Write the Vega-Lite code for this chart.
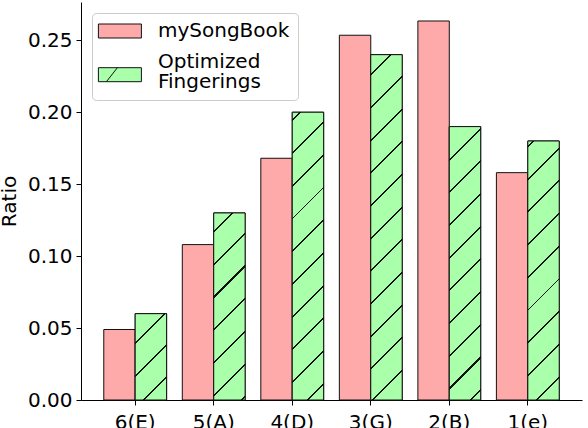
{
  "$schema": "https://vega.github.io/schema/vega-lite/v6.json",
  "width": 501,
  "height": 398,
  "autosize": {"type": "none"},
  "padding": {"left": 81, "top": 2, "right": 6, "bottom": 28},
  "background": "white",
  "config": {
    "view": {"stroke": null},
    "font": "DejaVu Sans",
    "axis": {
      "grid": false,
      "domainColor": "#000000",
      "domainWidth": 1,
      "tickColor": "#000000",
      "tickWidth": 1,
      "tickSize": 5,
      "labelColor": "#000000",
      "labelFontSize": 20,
      "labelFont": "DejaVu Sans",
      "titleFont": "DejaVu Sans",
      "titleFontSize": 20,
      "titleFontWeight": "normal",
      "titleColor": "#000000"
    }
  },
  "data": {
    "values": [
      {"category": "6(E)", "series": "mySongBook", "value": 0.049},
      {"category": "5(A)", "series": "mySongBook", "value": 0.108},
      {"category": "4(D)", "series": "mySongBook", "value": 0.168},
      {"category": "3(G)", "series": "mySongBook", "value": 0.2535},
      {"category": "2(B)", "series": "mySongBook", "value": 0.2634},
      {"category": "1(e)", "series": "mySongBook", "value": 0.158},
      {"category": "6(E)", "series": "Optimized Fingerings", "value": 0.06},
      {"category": "5(A)", "series": "Optimized Fingerings", "value": 0.13},
      {"category": "4(D)", "series": "Optimized Fingerings", "value": 0.20},
      {"category": "3(G)", "series": "Optimized Fingerings", "value": 0.24},
      {"category": "2(B)", "series": "Optimized Fingerings", "value": 0.19},
      {"category": "1(e)", "series": "Optimized Fingerings", "value": 0.18}
    ]
  },
  "encoding": {
    "x": {
      "field": "category",
      "type": "nominal",
      "sort": null,
      "scale": {"paddingInner": 0.2, "paddingOuter": 0.29},
      "axis": {"title": null, "labelAngle": 0, "labelPadding": 7}
    },
    "xOffset": {"field": "series", "type": "nominal", "sort": ["mySongBook", "Optimized Fingerings"]},
    "y": {
      "field": "value",
      "type": "quantitative",
      "scale": {"domain": [0, 0.2766], "nice": false},
      "axis": {"title": "Ratio", "values": [0, 0.05, 0.1, 0.15, 0.2, 0.25], "format": ".2f", "labelPadding": 4, "titlePadding": 8}
    }
  },
  "layer": [
    {
      "mark": {"type": "bar", "stroke": "#111111", "strokeWidth": 1},
      "encoding": {
        "color": {
          "field": "series",
          "type": "nominal",
          "scale": {"domain": ["mySongBook", "Optimized Fingerings"], "range": ["#ffaaaa", "#aaffaa"]},
          "legend": {
            "title": null,
            "orient": "none",
            "legendX": 11,
            "legendY": 11,
            "fillColor": "white",
            "strokeColor": "#cccccc",
            "cornerRadius": 4,
            "padding": 8,
            "symbolType": "M-1.657,-1H4.486V1H-1.657Z",
            "symbolSize": 196,
            "symbolStrokeColor": "#111111",
            "symbolStrokeWidth": 1,
            "labelFontSize": 20,
            "labelColor": "#000000",
            "labelOffset": 38,
            "rowPadding": 11,
            "labelExpr": "datum.label == 'Optimized Fingerings' ? ['Optimized', 'Fingerings'] : datum.label",
            "encode": {
              "symbols": {
                "enter": {
                  "shape": {"signal": "datum.value == 'Optimized Fingerings' ? 'M-1.657,0.814H4.486V2.814H-1.657Z M-0.514,2.814L1.057,0.814' : 'M-1.657,-1H4.486V1H-1.657Z'"}
                },
                "update": {
                  "shape": {"signal": "datum.value == 'Optimized Fingerings' ? 'M-1.657,0.814H4.486V2.814H-1.657Z M-0.514,2.814L1.057,0.814' : 'M-1.657,-1H4.486V1H-1.657Z'"},
                  "opacity": {"value": 1}
                }
              },
              "labels": {"update": {"lineHeight": {"value": 20}}}
            }
          }
        }
      }
    },
    {
      "transform": [{"filter": "datum.series == 'Optimized Fingerings' && datum.category == '6(E)'"}],
      "mark": {"type": "bar", "stroke": "#111111", "strokeWidth": 1, "fill": {
        "gradient": "linear", "x1": 0, "y1": 0, "x2": 0.4382, "y2": 1.2044,
        "stops": [
          {"offset": 0, "color": "#aaffaa"},
          {"offset": 0.2416, "color": "#aaffaa"}, {"offset": 0.2416, "color": "#111111"}, {"offset": 0.2586, "color": "#111111"}, {"offset": 0.2586, "color": "#aaffaa"},
          {"offset": 0.5194, "color": "#aaffaa"}, {"offset": 0.5194, "color": "#111111"}, {"offset": 0.5364, "color": "#111111"}, {"offset": 0.5364, "color": "#aaffaa"},
          {"offset": 0.7971, "color": "#aaffaa"}, {"offset": 0.7971, "color": "#111111"}, {"offset": 0.8141, "color": "#111111"}, {"offset": 0.8141, "color": "#aaffaa"},
          {"offset": 1, "color": "#aaffaa"}
        ]}}
    },
    {
      "transform": [{"filter": "datum.series == 'Optimized Fingerings' && datum.category == '5(A)'"}],
      "mark": {"type": "bar", "stroke": "#111111", "strokeWidth": 1, "fill": {
        "gradient": "linear", "x1": 0, "y1": 0, "x2": 0.19073, "y2": 1.13589,
        "stops": [
          {"offset": 0, "color": "#aaffaa"},
          {"offset": 0.0821, "color": "#aaffaa"}, {"offset": 0.0821, "color": "#111111"}, {"offset": 0.0913, "color": "#111111"}, {"offset": 0.0913, "color": "#aaffaa"},
          {"offset": 0.2318, "color": "#aaffaa"}, {"offset": 0.2318, "color": "#111111"}, {"offset": 0.2410, "color": "#111111"}, {"offset": 0.2410, "color": "#aaffaa"},
          {"offset": 0.3815, "color": "#aaffaa"}, {"offset": 0.3815, "color": "#111111"}, {"offset": 0.3907, "color": "#111111"}, {"offset": 0.3907, "color": "#aaffaa"},
          {"offset": 0.5312, "color": "#aaffaa"}, {"offset": 0.5312, "color": "#111111"}, {"offset": 0.5404, "color": "#111111"}, {"offset": 0.5404, "color": "#aaffaa"},
          {"offset": 0.6809, "color": "#aaffaa"}, {"offset": 0.6809, "color": "#111111"}, {"offset": 0.6901, "color": "#111111"}, {"offset": 0.6901, "color": "#aaffaa"},
          {"offset": 0.8305, "color": "#aaffaa"}, {"offset": 0.8305, "color": "#111111"}, {"offset": 0.8397, "color": "#111111"}, {"offset": 0.8397, "color": "#aaffaa"},
          {"offset": 0.9802, "color": "#aaffaa"}, {"offset": 0.9802, "color": "#111111"}, {"offset": 0.9894, "color": "#111111"}, {"offset": 0.9894, "color": "#aaffaa"},
          {"offset": 1, "color": "#aaffaa"}
        ]}}
    },
    {
      "transform": [{"filter": "datum.series == 'Optimized Fingerings' && datum.category == '4(D)'"}],
      "mark": {"type": "bar", "stroke": "#111111", "strokeWidth": 1, "fill": {
        "gradient": "linear", "x1": 0, "y1": 0, "x2": 0.11963, "y2": 1.0961,
        "stops": [
          {"offset": 0, "color": "#aaffaa"},
          {"offset": 0.0233, "color": "#aaffaa"}, {"offset": 0.0233, "color": "#111111"}, {"offset": 0.0295, "color": "#111111"}, {"offset": 0.0295, "color": "#aaffaa"},
          {"offset": 0.1258, "color": "#aaffaa"}, {"offset": 0.1258, "color": "#111111"}, {"offset": 0.1320, "color": "#111111"}, {"offset": 0.1320, "color": "#aaffaa"},
          {"offset": 0.2282, "color": "#aaffaa"}, {"offset": 0.2282, "color": "#111111"}, {"offset": 0.2344, "color": "#111111"}, {"offset": 0.2344, "color": "#aaffaa"},
          {"offset": 0.3307, "color": "#aaffaa"}, {"offset": 0.3307, "color": "#111111"}, {"offset": 0.3369, "color": "#111111"}, {"offset": 0.3369, "color": "#aaffaa"},
          {"offset": 0.4331, "color": "#aaffaa"}, {"offset": 0.4331, "color": "#111111"}, {"offset": 0.4393, "color": "#111111"}, {"offset": 0.4393, "color": "#aaffaa"},
          {"offset": 0.5356, "color": "#aaffaa"}, {"offset": 0.5356, "color": "#111111"}, {"offset": 0.5418, "color": "#111111"}, {"offset": 0.5418, "color": "#aaffaa"},
          {"offset": 0.6380, "color": "#aaffaa"}, {"offset": 0.6380, "color": "#111111"}, {"offset": 0.6442, "color": "#111111"}, {"offset": 0.6442, "color": "#aaffaa"},
          {"offset": 0.7405, "color": "#aaffaa"}, {"offset": 0.7405, "color": "#111111"}, {"offset": 0.7467, "color": "#111111"}, {"offset": 0.7467, "color": "#aaffaa"},
          {"offset": 0.8429, "color": "#aaffaa"}, {"offset": 0.8429, "color": "#111111"}, {"offset": 0.8491, "color": "#111111"}, {"offset": 0.8491, "color": "#aaffaa"},
          {"offset": 0.9454, "color": "#aaffaa"}, {"offset": 0.9454, "color": "#111111"}, {"offset": 0.9516, "color": "#111111"}, {"offset": 0.9516, "color": "#aaffaa"},
          {"offset": 1, "color": "#aaffaa"}
        ]}}
    },
    {
      "transform": [{"filter": "datum.series == 'Optimized Fingerings' && datum.category == '3(G)'"}],
      "mark": {"type": "bar", "stroke": "#111111", "strokeWidth": 1, "fill": {
        "gradient": "linear", "x1": 0, "y1": 0, "x2": 0.09841, "y2": 1.08199,
        "stops": [
          {"offset": 0, "color": "#aaffaa"},
          {"offset": 0.0509, "color": "#aaffaa"}, {"offset": 0.0509, "color": "#111111"}, {"offset": 0.0563, "color": "#111111"}, {"offset": 0.0563, "color": "#aaffaa"},
          {"offset": 0.1377, "color": "#aaffaa"}, {"offset": 0.1377, "color": "#111111"}, {"offset": 0.1431, "color": "#111111"}, {"offset": 0.1431, "color": "#aaffaa"},
          {"offset": 0.2245, "color": "#aaffaa"}, {"offset": 0.2245, "color": "#111111"}, {"offset": 0.2299, "color": "#111111"}, {"offset": 0.2299, "color": "#aaffaa"},
          {"offset": 0.3113, "color": "#aaffaa"}, {"offset": 0.3113, "color": "#111111"}, {"offset": 0.3167, "color": "#111111"}, {"offset": 0.3167, "color": "#aaffaa"},
          {"offset": 0.3980, "color": "#aaffaa"}, {"offset": 0.3980, "color": "#111111"}, {"offset": 0.4034, "color": "#111111"}, {"offset": 0.4034, "color": "#aaffaa"},
          {"offset": 0.4848, "color": "#aaffaa"}, {"offset": 0.4848, "color": "#111111"}, {"offset": 0.4902, "color": "#111111"}, {"offset": 0.4902, "color": "#aaffaa"},
          {"offset": 0.5716, "color": "#aaffaa"}, {"offset": 0.5716, "color": "#111111"}, {"offset": 0.5770, "color": "#111111"}, {"offset": 0.5770, "color": "#aaffaa"},
          {"offset": 0.6584, "color": "#aaffaa"}, {"offset": 0.6584, "color": "#111111"}, {"offset": 0.6638, "color": "#111111"}, {"offset": 0.6638, "color": "#aaffaa"},
          {"offset": 0.7452, "color": "#aaffaa"}, {"offset": 0.7452, "color": "#111111"}, {"offset": 0.7506, "color": "#111111"}, {"offset": 0.7506, "color": "#aaffaa"},
          {"offset": 0.8320, "color": "#aaffaa"}, {"offset": 0.8320, "color": "#111111"}, {"offset": 0.8374, "color": "#111111"}, {"offset": 0.8374, "color": "#aaffaa"},
          {"offset": 0.9188, "color": "#aaffaa"}, {"offset": 0.9188, "color": "#111111"}, {"offset": 0.9242, "color": "#111111"}, {"offset": 0.9242, "color": "#aaffaa"},
          {"offset": 1, "color": "#aaffaa"}
        ]}}
    },
    {
      "transform": [{"filter": "datum.series == 'Optimized Fingerings' && datum.category == '2(B)'"}],
      "mark": {"type": "bar", "stroke": "#111111", "strokeWidth": 1, "fill": {
        "gradient": "linear", "x1": 0, "y1": 0, "x2": 0.12642, "y2": 1.10037,
        "stops": [
          {"offset": 0, "color": "#aaffaa"},
          {"offset": 0.1056, "color": "#aaffaa"}, {"offset": 0.1056, "color": "#111111"}, {"offset": 0.1122, "color": "#111111"}, {"offset": 0.1122, "color": "#aaffaa"},
          {"offset": 0.2129, "color": "#aaffaa"}, {"offset": 0.2129, "color": "#111111"}, {"offset": 0.2195, "color": "#111111"}, {"offset": 0.2195, "color": "#aaffaa"},
          {"offset": 0.3202, "color": "#aaffaa"}, {"offset": 0.3202, "color": "#111111"}, {"offset": 0.3268, "color": "#111111"}, {"offset": 0.3268, "color": "#aaffaa"},
          {"offset": 0.4275, "color": "#aaffaa"}, {"offset": 0.4275, "color": "#111111"}, {"offset": 0.4341, "color": "#111111"}, {"offset": 0.4341, "color": "#aaffaa"},
          {"offset": 0.5348, "color": "#aaffaa"}, {"offset": 0.5348, "color": "#111111"}, {"offset": 0.5414, "color": "#111111"}, {"offset": 0.5414, "color": "#aaffaa"},
          {"offset": 0.6420, "color": "#aaffaa"}, {"offset": 0.6420, "color": "#111111"}, {"offset": 0.6486, "color": "#111111"}, {"offset": 0.6486, "color": "#aaffaa"},
          {"offset": 0.7493, "color": "#aaffaa"}, {"offset": 0.7493, "color": "#111111"}, {"offset": 0.7559, "color": "#111111"}, {"offset": 0.7559, "color": "#aaffaa"},
          {"offset": 0.8566, "color": "#aaffaa"}, {"offset": 0.8566, "color": "#111111"}, {"offset": 0.8632, "color": "#111111"}, {"offset": 0.8632, "color": "#aaffaa"},
          {"offset": 0.9639, "color": "#aaffaa"}, {"offset": 0.9639, "color": "#111111"}, {"offset": 0.9705, "color": "#111111"}, {"offset": 0.9705, "color": "#aaffaa"},
          {"offset": 1, "color": "#aaffaa"}
        ]}}
    },
    {
      "transform": [{"filter": "datum.series == 'Optimized Fingerings' && datum.category == '1(e)'"}],
      "mark": {"type": "bar", "stroke": "#111111", "strokeWidth": 1, "fill": {
        "gradient": "linear", "x1": 0, "y1": 0, "x2": 0.13401, "y2": 1.10502,
        "stops": [
          {"offset": 0, "color": "#aaffaa"},
          {"offset": 0.0162, "color": "#aaffaa"}, {"offset": 0.0162, "color": "#111111"}, {"offset": 0.0230, "color": "#111111"}, {"offset": 0.0230, "color": "#aaffaa"},
          {"offset": 0.1288, "color": "#aaffaa"}, {"offset": 0.1288, "color": "#111111"}, {"offset": 0.1356, "color": "#111111"}, {"offset": 0.1356, "color": "#aaffaa"},
          {"offset": 0.2414, "color": "#aaffaa"}, {"offset": 0.2414, "color": "#111111"}, {"offset": 0.2482, "color": "#111111"}, {"offset": 0.2482, "color": "#aaffaa"},
          {"offset": 0.3540, "color": "#aaffaa"}, {"offset": 0.3540, "color": "#111111"}, {"offset": 0.3608, "color": "#111111"}, {"offset": 0.3608, "color": "#aaffaa"},
          {"offset": 0.4666, "color": "#aaffaa"}, {"offset": 0.4666, "color": "#111111"}, {"offset": 0.4734, "color": "#111111"}, {"offset": 0.4734, "color": "#aaffaa"},
          {"offset": 0.5792, "color": "#aaffaa"}, {"offset": 0.5792, "color": "#111111"}, {"offset": 0.5860, "color": "#111111"}, {"offset": 0.5860, "color": "#aaffaa"},
          {"offset": 0.6918, "color": "#aaffaa"}, {"offset": 0.6918, "color": "#111111"}, {"offset": 0.6986, "color": "#111111"}, {"offset": 0.6986, "color": "#aaffaa"},
          {"offset": 0.8044, "color": "#aaffaa"}, {"offset": 0.8044, "color": "#111111"}, {"offset": 0.8112, "color": "#111111"}, {"offset": 0.8112, "color": "#aaffaa"},
          {"offset": 0.9170, "color": "#aaffaa"}, {"offset": 0.9170, "color": "#111111"}, {"offset": 0.9238, "color": "#111111"}, {"offset": 0.9238, "color": "#aaffaa"},
          {"offset": 1, "color": "#aaffaa"}
        ]}}
    }
  ]
}
